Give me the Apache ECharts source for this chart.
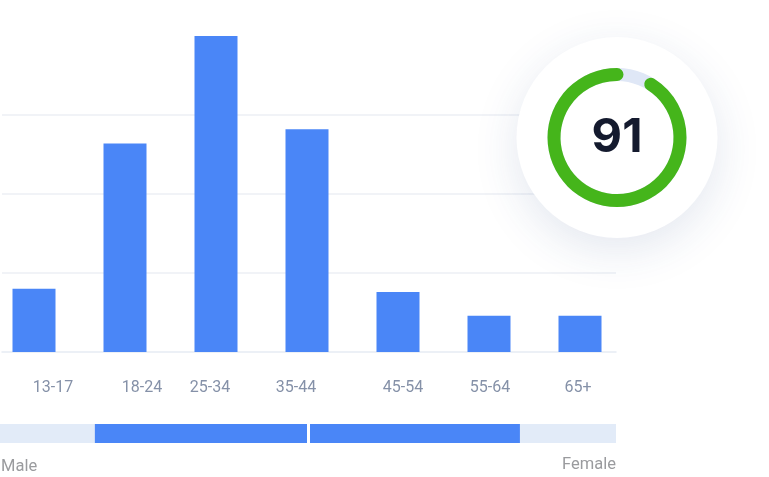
<!DOCTYPE html>
<html>
<head>
<meta charset="utf-8">
<script src="https://cdn.jsdelivr.net/npm/echarts@6/dist/echarts.min.js"></script>
<style>html,body{margin:0;padding:0;background:#fff}#c{width:769px;height:477px}</style>
</head>
<body>
<div id="c"></div>
<script>
// ---- data ----
const categories = ['13-17', '18-24', '25-34', '35-44', '45-54', '55-64', '65+'];
const values = [8.0, 26.4, 40.0, 28.2, 7.6, 4.6, 4.6];
const yTicks = [0, 10, 20, 30, 40];
const maleShare = 34.6;
const femaleShare = 34.4;
const score = 91;
const genderLabels = ['Male', 'Female'];

// ---- styles ----
const labelShift = [19, 17, -6, -11, 5, 1, -2]; // px nudges of the tick labels
const blue = '#4a86f7';
const light = '#e2ebf8';

const rich = {};
categories.forEach((c, i) => {
  const d = labelShift[i];
  rich['l' + i] = {
    fontSize: 16, color: '#8591a8', fontFamily: 'Roboto',
    padding: d >= 0 ? [0, 0, 0, 2 * d] : [0, -2 * d, 0, 0]
  };
});

const chart = echarts.init(document.getElementById('c'));
chart.setOption({
  animation: false,
  grid: [
    { left: -11.5, width: 637, top: 36, bottom: 125, outerBoundsMode: 'none', containLabel: false },
    { left: 2, right: 153, top: 36, bottom: 125, outerBoundsMode: 'none', containLabel: false },
    { left: 0, right: 153, top: 424, height: 19, outerBoundsMode: 'none', containLabel: false }
  ],
  xAxis: [
    {
      gridIndex: 0, type: 'category', data: categories,
      axisLine: { show: false }, axisTick: { show: false },
      axisLabel: {
        margin: 28,
        formatter: (v, i) => '{l' + i + '|' + v + '}',
        rich: rich
      }
    },
    {
      gridIndex: 1, type: 'value', min: 0, max: 1, show: true,
      axisLine: { show: true, onZero: false, lineStyle: { color: '#e6ebf4', width: 1.5 } },
      axisTick: { show: false }, axisLabel: { show: false }, splitLine: { show: false }
    },
    {
      gridIndex: 2, type: 'value', min: -50, max: 50, show: false
    }
  ],
  yAxis: [
    { gridIndex: 0, type: 'value', min: yTicks[0], max: yTicks[yTicks.length - 1], interval: 10, show: false },
    {
      gridIndex: 1, type: 'value', min: yTicks[0], max: yTicks[yTicks.length - 1], interval: 10,
      axisLine: { show: false }, axisTick: { show: false }, axisLabel: { show: false },
      splitLine: { show: true, showMinLine: false, showMaxLine: false, lineStyle: { color: '#eceff4', width: 1.5 } }
    },
    { gridIndex: 2, type: 'category', data: ['gender'], show: false }
  ],
  graphic: [
    {
      type: 'circle', z: 50, shape: { cx: 617, cy: 137.5, r: 100.5 },
      style: { fill: '#fff', shadowBlur: 45, shadowColor: 'rgba(40,70,130,0.13)', shadowOffsetY: 12 }
    },
    {
      type: 'text', left: 1, top: 458, z: 5,
      style: { text: genderLabels[0], fontSize: 16.5, fill: '#9a9b9e', fontFamily: 'Roboto' }
    },
    {
      type: 'text', right: 153, top: 456, z: 5,
      style: { text: genderLabels[1], fontSize: 16.5, fill: '#9a9b9e', fontFamily: 'Roboto', textAlign: 'right' }
    }
  ],
  series: [
    {
      type: 'bar', xAxisIndex: 0, yAxisIndex: 0, data: values, barWidth: 43,
      itemStyle: { color: blue }, z: 3
    },
    {
      type: 'bar', xAxisIndex: 2, yAxisIndex: 2, stack: 'g', data: [-maleShare], barWidth: 19,
      itemStyle: { color: blue },
      showBackground: true, backgroundStyle: { color: light },
      markLine: {
        silent: true, symbol: 'none', label: { show: false },
        lineStyle: { color: '#fff', width: 3, type: 'solid' },
        data: [{ xAxis: 0 }]
      }
    },
    {
      type: 'bar', xAxisIndex: 2, yAxisIndex: 2, stack: 'g', data: [femaleShare], barWidth: 19,
      itemStyle: { color: blue }
    },
    {
      type: 'gauge', z: 60, center: [617, 137.5], radius: 69.5,
      startAngle: 90, endAngle: -270, clockwise: false, min: 0, max: 100,
      progress: { show: true, width: 13, roundCap: true, itemStyle: { color: '#45b51b' } },
      axisLine: { lineStyle: { width: 13, color: [[1, '#dfe7f6']] } },
      pointer: { show: false }, axisTick: { show: false }, splitLine: { show: false },
      axisLabel: { show: false }, title: { show: false }, anchor: { show: false },
      detail: {
        offsetCenter: [0, 0], valueAnimation: false,
        fontSize: 47, fontWeight: 'bold', fontFamily: 'Inter', color: '#141a2e',
        formatter: '{value}'
      },
      data: [{ value: score }]
    }
  ]
});
</script>
</body>
</html>
